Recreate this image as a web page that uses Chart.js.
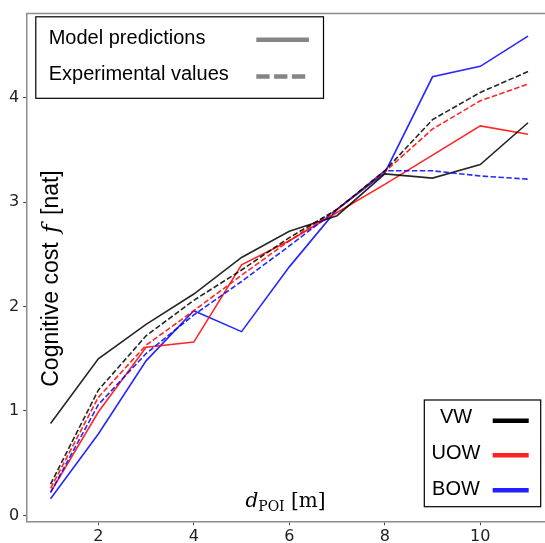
<!DOCTYPE html>
<html>
<head>
<meta charset="utf-8">
<script src="https://cdn.jsdelivr.net/npm/chart.js@4.4.1/dist/chart.umd.min.js"></script>
<style>
  html, body { margin: 0; padding: 0; background: #fff; overflow: hidden; }
  #wrap { width: 545px; height: 543px; overflow: hidden; position: relative; }
  canvas { display: block; }
</style>
</head>
<body>
<div id="wrap"><canvas id="c" width="560" height="543"></canvas></div>
<script>
// ---- data ----
const xValues = [1, 2, 3, 4, 5, 6, 7, 8, 9, 10, 11];
const vwModel  = [0.88, 1.50, 1.83, 2.12, 2.47, 2.72, 2.87, 3.27, 3.23, 3.36, 3.76];
const vwExp    = [0.30, 1.20, 1.72, 2.06, 2.35, 2.66, 2.93, 3.30, 3.79, 4.05, 4.25];
const uowModel = [0.22, 0.99, 1.61, 1.66, 2.40, 2.63, 2.90, 3.17, 3.45, 3.73, 3.65];
const uowExp   = [0.26, 1.13, 1.63, 1.96, 2.30, 2.63, 2.93, 3.29, 3.70, 3.97, 4.13];
const bowModel = [0.16, 0.78, 1.48, 1.96, 1.76, 2.38, 2.93, 3.28, 4.20, 4.30, 4.59];
const bowExp   = [0.22, 1.06, 1.55, 1.92, 2.24, 2.58, 2.93, 3.30, 3.30, 3.25, 3.22];
const xTicks = [2, 4, 6, 8, 10];
const yTicks = [0, 1, 2, 3, 4];
const groupNames = ['VW', 'UOW', 'BOW'];
const styleNames = ['Model predictions', 'Experimental values'];

const colors = { VW: 'rgba(0,0,0,0.85)', UOW: 'rgba(255,0,0,0.85)', BOW: 'rgba(0,0,255,0.85)' };
const legendColors = { VW: '#000000', UOW: '#ff2020', BOW: '#2020ff' };
const DASH = [5.5, 2.4];

function pts(arr) { return arr.map((v, i) => ({ x: xValues[i], y: v })); }
function ds(label, arr, color, dashed) {
  return {
    label, data: pts(arr), borderColor: color, backgroundColor: color,
    borderWidth: 1.6, borderDash: dashed ? DASH : [], pointRadius: 0,
    tension: 0, fill: false
  };
}

const datasets = [
  ds('VW exp', vwExp, colors.VW, true),
  ds('UOW exp', uowExp, colors.UOW, true),
  ds('BOW exp', bowExp, colors.BOW, true),
  ds('VW model', vwModel, colors.VW, false),
  ds('UOW model', uowModel, colors.UOW, false),
  ds('BOW model', bowModel, colors.BOW, false)
];

const overlay = {
  id: 'overlay',
  afterDraw(chart) {
    const ctx = chart.ctx;
    const a = chart.chartArea;
    ctx.save();
    // top spine
    ctx.strokeStyle = '#8c8c8c';
    ctx.lineWidth = 1.5;
    ctx.beginPath();
    ctx.moveTo(a.left, a.top);
    ctx.lineTo(a.right, a.top);
    ctx.stroke();

    // ---- legend 1 ----
    ctx.fillStyle = '#fff';
    ctx.fillRect(35.8, 16.8, 287.7, 81.5);
    ctx.strokeStyle = '#000';
    ctx.lineWidth = 1.2;
    ctx.strokeRect(35.8, 16.8, 287.7, 81.5);
    ctx.fillStyle = '#000';
    ctx.font = '20px "Liberation Sans", Arial, sans-serif';
    ctx.textAlign = 'left';
    ctx.textBaseline = 'alphabetic';
    ctx.fillText(styleNames[0], 48.7, 43.8);
    ctx.fillText(styleNames[1], 48.7, 79.8);
    ctx.strokeStyle = '#858585';
    ctx.lineWidth = 4.5;
    ctx.lineCap = 'butt';
    ctx.beginPath();
    ctx.moveTo(256.3, 39.7); ctx.lineTo(308.9, 39.7);
    ctx.stroke();
    ctx.setLineDash([13.3, 4.5]);
    ctx.beginPath();
    ctx.moveTo(256.3, 76.4); ctx.lineTo(306, 76.4);
    ctx.stroke();
    ctx.setLineDash([]);

    // ---- legend 2 ----
    ctx.fillStyle = '#fff';
    ctx.fillRect(424.3, 400, 116.4, 106.7);
    ctx.strokeStyle = '#000';
    ctx.lineWidth = 1.2;
    ctx.strokeRect(424.3, 400, 116.4, 106.7);
    ctx.font = '20px "Liberation Sans", Arial, sans-serif';
    ctx.textAlign = 'center';
    const ys = [422.7, 459, 495];
    const ly = [420.7, 455.3, 490.3];
    groupNames.forEach((g, i) => {
      ctx.fillStyle = '#000';
      ctx.fillText(g, 456, ys[i]);
      ctx.strokeStyle = legendColors[g];
      ctx.lineWidth = 4.5;
      ctx.beginPath();
      ctx.moveTo(492.7, ly[i]); ctx.lineTo(528.7, ly[i]);
      ctx.stroke();
    });

    // ---- y axis label (inside) ----
    ctx.fillStyle = '#000';
    ctx.textAlign = 'left';
    const sans = '23px "Liberation Sans", Arial, sans-serif';
    const ital = 'italic 23px "DejaVu Serif", serif';
    const parts = [['Cognitive cost ', sans, 3], ['f', ital, 3], [' [nat]', sans, 0]];
    let total = 0;
    parts.forEach(p => { ctx.font = p[1]; total += ctx.measureText(p[0]).width + p[2]; });
    ctx.translate(58.3, 278.5);
    ctx.rotate(-Math.PI / 2);
    let cx = -total / 2;
    parts.forEach(p => { ctx.font = p[1]; ctx.fillText(p[0], cx, 0); cx += ctx.measureText(p[0]).width + p[2]; });
    ctx.setTransform(1, 0, 0, 1, 0, 0);

    // ---- x axis label (inside) ----
    const xparts = [
      ['d', 'italic 20px "DejaVu Serif", serif', 507.3],
      ['POI', '14px "DejaVu Serif", serif', 510.7],
      [' [m]', '20px "DejaVu Serif", serif', 507.3]
    ];
    let tw = 0;
    xparts.forEach(p => { ctx.font = p[1]; tw += ctx.measureText(p[0]).width; });
    let px = 285.5 - tw / 2;
    xparts.forEach(p => { ctx.font = p[1]; ctx.fillText(p[0], px, p[2]); px += ctx.measureText(p[0]).width; });
    ctx.restore();
  }
};

new Chart(document.getElementById('c'), {
  type: 'line',
  data: { datasets },
  options: {
    responsive: false,
    animation: false,
    devicePixelRatio: 1,
    layout: { padding: { top: 11, right: 8.1, left: 0, bottom: 0 } },
    plugins: { legend: { display: false }, tooltip: { enabled: false } },
    scales: {
      x: {
        type: 'linear', min: 0.5, max: 11.5,
        afterBuildTicks: s => { s.ticks = xTicks.map(v => ({ value: v })); },
        afterFit: s => { s.height = 21.3; },
        grid: { display: true, drawOnChartArea: false, drawTicks: true, tickLength: 3.5, tickColor: '#444', tickWidth: 1 },
        border: { display: true, color: '#8c8c8c', width: 1.5 },
        ticks: { font: { family: '"DejaVu Sans", sans-serif', size: 16 }, color: '#222', padding: 2.5, maxRotation: 0 }
      },
      y: {
        type: 'linear', min: -0.06, max: 4.805,
        afterBuildTicks: s => { s.ticks = yTicks.map(v => ({ value: v })); },
        afterFit: s => { s.width = 26.7; },
        grid: { display: true, drawOnChartArea: false, drawTicks: true, tickLength: 3.5, tickColor: '#444', tickWidth: 1 },
        border: { display: true, color: '#8c8c8c', width: 1.5 },
        ticks: { font: { family: '"DejaVu Sans", sans-serif', size: 16 }, color: '#222', padding: 4 }
      }
    }
  },
  plugins: [overlay]
});
</script>
</body>
</html>
